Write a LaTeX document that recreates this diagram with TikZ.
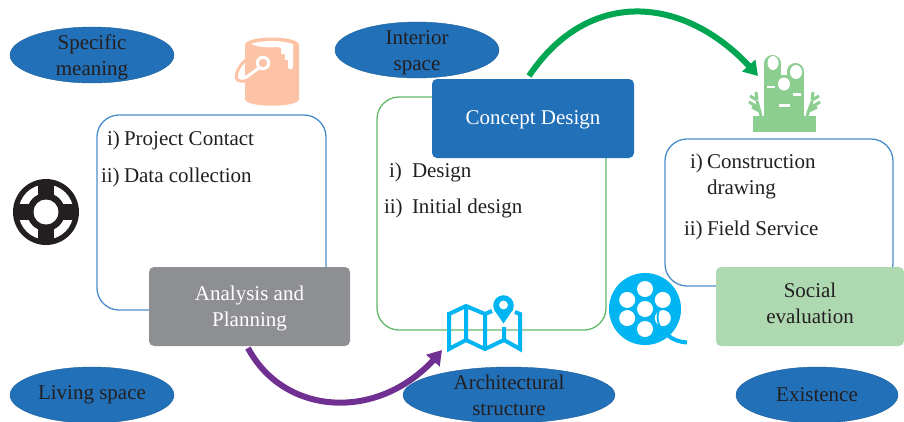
\documentclass[tikz,border=0pt]{standalone}
\usepackage{fontspec}
\setmainfont{Liberation Serif}
\usetikzlibrary{shapes.geometric,arrows.meta,bending,calc}
\definecolor{ellblue}{HTML}{2270B8}
\definecolor{txt}{HTML}{231F20}
\definecolor{bucket}{HTML}{FDC3A6}
\definecolor{plant}{HTML}{8CCD90}
\definecolor{cyanic}{HTML}{00B5F1}
\definecolor{boxblue}{HTML}{4A8CCB}
\definecolor{boxgreen}{HTML}{62B96A}
\definecolor{stagegrey}{HTML}{8E8F92}
\definecolor{stagegreen}{HTML}{AED8B0}
\definecolor{purplearrow}{HTML}{703092}
\definecolor{greenarrow}{HTML}{00A651}
\newcommand{\firstline}[1]{\rule{0pt}{#1}}
\tikzset{
  x=1pt,y=-1pt,
  every node/.style={text=txt,font=\fontsize{21}{26}\selectfont,inner sep=0pt,outer sep=0pt},
  oval/.style={ellipse,fill=ellblue,draw=ellblue!85!black,line width=.4pt,minimum height=56pt,align=center,inner xsep=-12pt,inner ysep=-20pt},
  listbox/.style={rectangle,rounded corners=22pt,fill=white,line width=1.3pt,anchor=north west},
  stage/.style={rectangle,rounded corners=5pt,align=center,anchor=north west,minimum width=201pt,minimum height=79pt},
  item/.style={anchor=base west},
  flow/.style={line width=6pt,-{Triangle[length=14pt,width=17pt,flex]}},
}
\begin{document}
\begin{tikzpicture}
\useasboundingbox (0,0) rectangle (904,421);
% ellipses
\node[oval,minimum width=164pt] (specific) at (92,55) {\firstline{19pt}Specific\\meaning};
\node[oval,minimum width=164pt] (interior) at (417,50) {\firstline{19pt}Interior\\space};
\node[oval,minimum width=164pt] (living) at (92,395) {Living space};
\node[oval,minimum width=212pt] (arch) at (509,395) {Architectural\\structure};
\node[oval,minimum width=162pt] (exist) at (817,395) {Existence};
% list boxes
\node[listbox,draw=boxblue,minimum width=229pt,minimum height=195pt] (b1) at (97,115) {};
\node[listbox,draw=boxgreen,minimum width=229pt,minimum height=233pt] (b2) at (377,97) {};
\node[listbox,draw=boxblue,minimum width=228pt,minimum height=147pt] (b3) at (665,139) {};
% stages
\node[stage,fill=ellblue,text=white,minimum width=202pt] (concept) at (432,79) {\firstline{17pt}Concept Design};
\node[stage,fill=stagegrey,text=white] (analysis) at (149,267) {\firstline{18pt}Analysis and\\Planning};
\node[stage,fill=stagegreen,minimum width=188pt] (social) at (716,267) {Social\\evaluation\rule[-7.5pt]{0pt}{7.5pt}};
% list text
\node[item] (t1a) at (107,145) {i)};
\node[item] (t1b) at (124,145) {Project Contact};
\node[item] (t2a) at (101,182) {ii)};
\node[item] (t2b) at (124,182) {Data collection};
\node[item] (t3a) at (389,177) {i)};
\node[item] (t3b) at (412,177) {Design};
\node[item] (t4a) at (384,213) {ii)};
\node[item] (t4b) at (412,213) {Initial design};
\node[item] (t5a) at (690,168) {i)};
\node[item] (t5b) at (707,168) {Construction};
\node[item] (t5c) at (707,194) {drawing};
\node[item] (t6a) at (684,235) {ii)};
\node[item] (t6b) at (707,235) {Field Service};
% connector ends
\coordinate (purpleS) at (248,348);
\coordinate (purpleE) at (442,350);
\coordinate (greenS) at (529,76);
\coordinate (greenE) at (758,76);
\draw[flow,color=purplearrow] (purpleS) .. controls (285,418) and (385,423) .. (purpleE);
\draw[flow,color=greenarrow] (greenS) .. controls (590,-15) and (690,-5) .. (greenE);
% bucket icon
\draw[bucket,line width=3pt] (246,60) .. controls (238,66) and (232,80) .. (240,81) .. controls (244,82) and (248,80) .. (252,78);
\fill[bucket] (245,45) .. controls (245,35) and (299,35) .. (299,45) -- (299,99) .. controls (299,108) and (245,108) .. (245,99) -- cycle;
\fill[white] (251,44) .. controls (262,40) and (282,40) .. (293,44) -- (293,67) .. controls (293,70) and (288,70) .. (288,67) -- (288,60) -- (285,60) -- (285,54) -- (281,54) -- (281,48) -- (277,47) .. controls (268,48) and (258,47) .. (251,44) -- cycle;
\draw[white,line width=3pt] (263,63) circle (5.7);
\draw[white,line width=3pt] (259,68) -- (245,78);
% lifebuoy icon
\fill[txt] (46,212) circle (33);
\fill[white] (46,212) circle (27.5);
\fill[txt] (38,180) rectangle (54,244);
\fill[txt] (14,204) rectangle (78,220);
\fill[txt] (46,212) circle (19);
\fill[white] (46,212) circle (12.5);
% plant icon
\fill[plant] (772.5,63.5) circle (8.5);
\fill[plant] (795.5,71.5) circle (8.5);
\fill[plant] (764,63.5) rectangle (781,116);
\fill[plant] (787,71.5) rectangle (804,116);
\fill[plant] (781,75) rectangle (787,116);
\fill[plant] (753,116) rectangle (816,132);
\fill[white] (773,63) ellipse (5.5 and 7);
\fill[white] (796,72) ellipse (6 and 7);
\fill[white] (784,84) ellipse (6 and 6.5);
\fill[white] (767,85.5) rectangle (775,88);
\fill[white] (793,93) rectangle (801,95.5);
\fill[white] (779,104) rectangle (790,106.5);
\draw[plant,line width=3pt] (761,116) -- (757,101) (759,108) -- (749,102) (761,112) -- (752,107) (757,100) -- (756,92) (757,100) -- (750,96);
\draw[plant,line width=3pt] (807,116) -- (812,101) (810,108) -- (820,102) (807,112) -- (817,107) (812,100) -- (813,92) (812,100) -- (819,96);
% map icon
\draw[cyanic,line width=4pt,line join=miter]
 (449,314) -- (466,306) -- (485,314) -- (492,311)
 (449,312) -- (449,349) -- (466,340) -- (485,349) -- (504,340) -- (520,349) -- (520,314) -- (515,312)
 (466,306) -- (466,340) (485,314) -- (485,349) (504,327) -- (504,340);
\fill[cyanic] (503.5,305.5) circle (10.3);
\fill[cyanic] (494.3,310) -- (512.7,310) -- (503.5,323.5) -- cycle;
\fill[white] (503.5,305) circle (4.4);
% film reel icon
\fill[cyanic] (645,309) circle (36);
\fill[white] (645,309) circle (8);
\foreach \a in {-90,-27,27,90,153,207}{\fill[white] ($(645,309)+(\a:20)$) circle (8);}
\draw[cyanic,line width=1.8pt] (659,310) .. controls (655,320) and (660,330) .. (668,335);
\draw[cyanic,line width=4pt] (667,334) .. controls (672,340) and (680,342) .. (687,342.5);
\end{tikzpicture}
\end{document}
